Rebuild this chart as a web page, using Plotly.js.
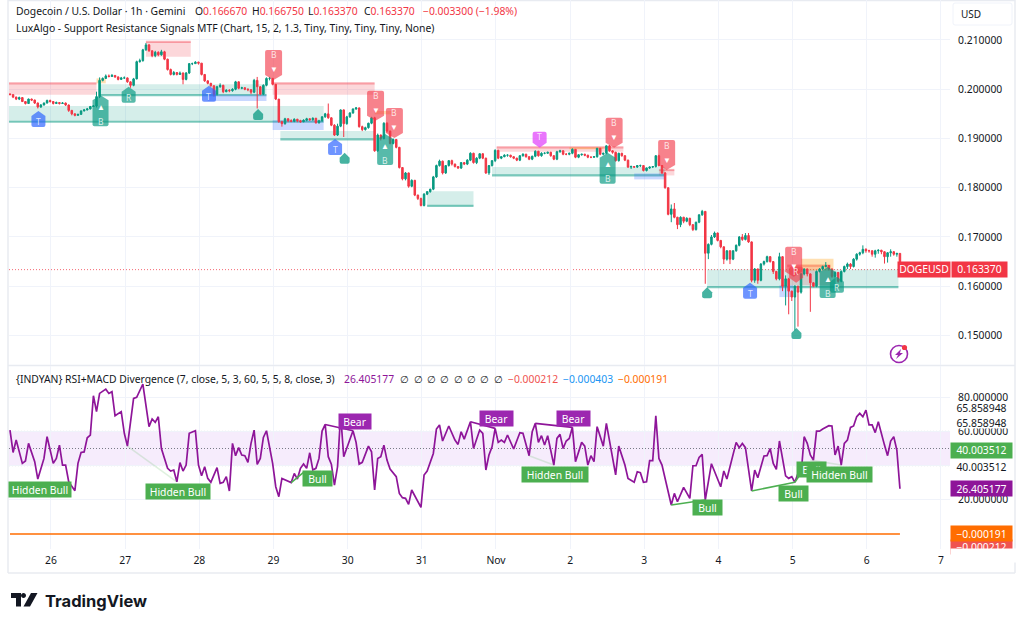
<!DOCTYPE html>
<html><head><meta charset="utf-8">
<script src="https://cdn.plot.ly/plotly-3.0.1.min.js"></script>
<style>html,body{margin:0;padding:0;background:#fff}#c{width:1024px;height:627px}</style>
</head><body><div id="c"></div>
<script>
const firstOpen = .1990;
const closes = [
.1989,.1984,.1980,.1983,.1975,.1971,.1980,.1978,.1972,.1964,
.1968,.1972,.1977,.1975,.1971,.1973,.1971,.1972,.1968,.1957,
.1950,.1947,.1949,.1956,.1958,.1960,.1965,.1966,.1985,.2018,
.2022,.2027,.2026,.2028,.2025,.2020,.2023,.2023,.2015,.2008,
.2021,.2056,.2058,.2080,.2090,.2078,.2068,.2075,.2070,.2076,
.2061,.2040,.2030,.2034,.2030,.2033,.2020,.2033,.2052,.2052,
.2055,.2053,.2030,.2017,.2012,.2007,.1990,.2005,.2008,.1995,
.1998,.1997,.2000,.2015,.2002,.2003,.2000,.1999,.1994,.2018,
.2005,.1990,.2008,.2022,.2022,.2010,.1980,.1934,.1930,.1940,
.1936,.1935,.1939,.1936,.1934,.1937,.1940,.1938,.1941,.1932,
.1936,.1944,.1950,.1942,.1927,.1907,.1925,.1958,.1930,.1944,
.1952,.1960,.1962,.1924,.1918,.1922,.1931,.1942,.1875,.1907,
.1900,.1931,.1915,.1890,.1898,.1882,.1841,.1818,.1830,.1803,
.1815,.1785,.1778,.1764,.1787,.1792,.1797,.1822,.1845,.1854,
.1830,.1845,.1855,.1848,.1843,.1840,.1851,.1848,.1856,.1870,
.1851,.1860,.1869,.1860,.1830,.1845,.1855,.1876,.1860,.1863,
.1866,.1866,.1863,.1860,.1856,.1865,.1868,.1863,.1858,.1864,
.1874,.1865,.1870,.1870,.1872,.1865,.1858,.1873,.1875,.1868,
.1868,.1870,.1878,.1862,.1867,.1868,.1866,.1862,.1862,.1863,
.1880,.1868,.1870,.1885,.1875,.1872,.1855,.1870,.1865,.1856,
.1842,.1843,.1842,.1845,.1845,.1835,.1840,.1842,.1843,.1865,
.1845,.1830,.1800,.1746,.1757,.1740,.1725,.1740,.1732,.1738,
.1725,.1715,.1730,.1745,.1752,.1667,.1685,.1700,.1708,.1693,
.1680,.1655,.1672,.1655,.1672,.1683,.1700,.1695,.1703,.1690,
.1612,.1635,.1612,.1645,.1650,.1660,.1650,.1630,.1615,.1660,
.1600,.1615,.1590,.1578,.1600,.1588,.1625,.1635,.1625,.1607,
.1600,.1630,.1635,.1640,.1642,.1635,.1620,.1628,.1610,.1630,
.1640,.1645,.1640,.1655,.1665,.1668,.1675,.1672,.1672,.1665,
.1672,.1673,.1670,.1660,.1668,.1670,.1665,.16667,.16337];
const highs = [
.1992,.1990,.1985,.1985,.1984,.1976,.1981,.1981,.1979,.1973,
.1970,.1973,.1979,.1979,.1976,.1975,.1974,.1974,.1973,.1969,
.1958,.1951,.1950,.1957,.1960,.1962,.1966,.1968,.1995,.2024,
.2024,.2030,.2030,.2031,.2029,.2026,.2025,.2026,.2024,.2016,
.2023,.2058,.2062,.2082,.2094,.2092,.2079,.2078,.2077,.2080,
.2078,.2062,.2042,.2037,.2035,.2036,.2034,.2035,.2053,.2054,
.2057,.2056,.2053,.2031,.2018,.2013,.2008,.2007,.2012,.2009,
.2000,.2000,.2002,.2017,.2016,.2005,.2004,.2002,.2000,.2021,
.2025,.2006,.2010,.2024,.2025,.2023,.2010,.1980,.1936,.1942,
.1941,.1939,.1941,.1940,.1938,.1939,.1942,.1941,.1943,.1942,
.1938,.1945,.1952,.1971,.1943,.1929,.1930,.1959,.1959,.1946,
.1953,.1961,.1964,.1963,.1926,.1924,.1932,.1944,.1944,.1910,
.1908,.1933,.1933,.1916,.1900,.1899,.1883,.1842,.1832,.1831,
.1817,.1816,.1786,.1780,.1789,.1793,.1798,.1824,.1847,.1857,
.1855,.1846,.1856,.1857,.1849,.1844,.1852,.1852,.1858,.1872,
.1871,.1862,.1870,.1870,.1861,.1846,.1856,.1878,.1877,.1864,
.1868,.1868,.1867,.1864,.1861,.1866,.1870,.1869,.1864,.1865,
.1876,.1875,.1872,.1872,.1873,.1873,.1866,.1875,.1877,.1876,
.1870,.1871,.1880,.1878,.1868,.1869,.1869,.1867,.1863,.1864,
.1881,.1881,.1871,.1886,.1887,.1876,.1873,.1871,.1871,.1866,
.1857,.1845,.1844,.1846,.1847,.1846,.1841,.1843,.1844,.1866,
.1867,.1846,.1832,.1800,.1766,.1769,.1741,.1742,.1741,.1740,
.1739,.1726,.1731,.1746,.1755,.1752,.1687,.1704,.1711,.1709,
.1694,.1681,.1673,.1673,.1673,.1685,.1702,.1706,.1708,.1708,
.1691,.1637,.1636,.1647,.1652,.1662,.1661,.1651,.1631,.1668,
.1661,.1622,.1617,.1591,.1602,.1601,.1627,.1636,.1636,.1626,
.1608,.1632,.1637,.1642,.1649,.1643,.1636,.1630,.1629,.1632,
.1642,.1648,.1647,.1657,.1667,.1670,.1683,.1677,.1674,.1673,
.1674,.1675,.1674,.1671,.1669,.1675,.1671,.16675,.16675];
const lows = [
.1988,.1982,.1978,.1978,.1974,.1969,.1970,.1976,.1970,.1961,
.1962,.1967,.1971,.1973,.1969,.1970,.1969,.1970,.1966,.1954,
.1947,.1945,.1946,.1948,.1955,.1957,.1959,.1964,.1963,.1982,
.2016,.2021,.2024,.2025,.2023,.2018,.2019,.2021,.2013,.2003,
.2006,.2020,.2054,.2056,.2078,.2076,.2065,.2065,.2067,.2068,
.2059,.2038,.2028,.2028,.2028,.2029,.2010,.2018,.2031,.2049,
.2052,.2050,.2028,.2015,.2010,.2005,.1985,.1987,.2003,.1992,
.1994,.1994,.1995,.1998,.2000,.2000,.1998,.1996,.1990,.1992,
.1961,.1988,.1988,.2006,.2018,.2008,.1978,.1932,.1924,.1928,
.1933,.1933,.1933,.1933,.1932,.1933,.1935,.1936,.1936,.1930,
.1930,.1934,.1942,.1940,.1925,.1905,.1905,.1923,.1903,.1928,
.1942,.1950,.1958,.1922,.1915,.1916,.1920,.1929,.1873,.1873,
.1896,.1898,.1912,.1888,.1888,.1880,.1839,.1815,.1815,.1800,
.1801,.1783,.1775,.1762,.1762,.1785,.1790,.1795,.1820,.1843,
.1827,.1828,.1843,.1845,.1841,.1838,.1838,.1846,.1846,.1854,
.1849,.1848,.1858,.1858,.1828,.1826,.1843,.1852,.1858,.1858,
.1862,.1863,.1861,.1858,.1854,.1854,.1863,.1861,.1856,.1856,
.1862,.1863,.1863,.1868,.1869,.1863,.1856,.1856,.1871,.1866,
.1866,.1866,.1868,.1860,.1860,.1865,.1864,.1860,.1860,.1861,
.1861,.1866,.1866,.1868,.1873,.1869,.1853,.1853,.1863,.1854,
.1840,.1838,.1840,.1840,.1842,.1833,.1833,.1838,.1840,.1841,
.1843,.1828,.1798,.1744,.1730,.1738,.1716,.1720,.1728,.1730,
.1722,.1712,.1713,.1728,.1743,.1605,.1655,.1683,.1698,.1691,
.1677,.1645,.1652,.1645,.1653,.1670,.1681,.1692,.1693,.1688,
.1608,.1607,.1605,.1610,.1642,.1648,.1648,.1625,.1612,.1612,
.1590,.1561,.1543,.1570,.1510,.1518,.1585,.1622,.1620,.1548,
.1598,.1598,.1628,.1633,.1638,.1632,.1617,.1617,.1607,.1608,
.1628,.1635,.1635,.1638,.1652,.1662,.1665,.1668,.1668,.1660,
.1658,.1666,.1665,.1646,.1648,.1660,.1662,.1660,.16337];
const rsiIdx = [0,1,2,4,5,6,8,9,11,12,14,15,16,17,18,19,21,22,23,24,25,26,27,28,29,31,32,33,34,36,37,38,40,41,43,45,46,47,48,49,51,52,53,54,55,56,57,58,60,61,62,63,64,65,67,68,69,70,71,72,73,74,75,76,77,78,79,80,81,82,83,85,86,87,88,90,91,92,93,94,95,96,97,98,99,100,101,102,103,104,105,106,107,108,111,112,113,114,116,117,118,119,120,121,122,123,125,126,127,128,129,130,133,134,135,137,138,139,140,142,144,145,146,147,149,150,152,153,154,155,156,157,158,159,160,161,163,165,166,168,169,170,171,172,173,174,176,177,178,179,180,181,182,183,185,186,187,188,189,190,192,193,196,197,199,200,202,203,204,205,206,207,208,209,210,211,214,215,216,218,220,221,222,223,224,225,227,230,231,232,235,236,237,238,240,241,242,244,245,246,247,248,249,251,252,253,254,255,256,257,258,259,260,261,262,263,265,266,267,268,269,270,271,272,273,274,275,276,277,278,279,280,281,283,284,285,286,287,288];
const rsiVal = [60.8,47.7,55,41.3,42.7,53,42.3,32.1,44.2,56.9,41.3,44.2,52,40.3,40.3,30.5,25.3,41.3,47.7,48,56.3,57.9,80.9,71.6,82.3,84.8,82.3,83.3,69.2,71.6,58.9,51.4,79.4,80,87.8,62.8,67.3,65.3,68.6,50,38.4,36.8,37.4,30.5,41.7,36.8,40.3,58.9,60.4,40.3,34,39.3,32.5,30.2,38.8,29.6,30.2,33.5,25.1,53,45.8,50.5,46.2,45.8,41.9,53,60.8,40.7,44.2,56.5,60.4,41.3,27.6,21.8,32.5,30.5,30,35.4,32.1,38.4,40.9,38.4,47.5,37.4,38.4,44.2,60.2,64.1,45.2,40.8,28.6,39.3,70,45.2,60.4,53.6,40.9,41.9,51.4,48.1,25.7,44.2,45.2,52,43.2,38,33.5,23.7,21.2,20.8,17.3,25.7,15.5,34.5,36.8,47.1,61.4,63.8,54.4,63.2,55,52.4,59.8,55.5,65.7,50,60.8,58.9,37.4,46.2,51,61.8,53.6,55,53.6,57.9,49.7,59.3,58.9,45.8,59.8,64.7,53.6,57.5,52,57.5,40.3,55.9,58.3,50,54.4,55.9,62.4,42.3,53.6,51.4,40.3,45.8,42.3,62.8,51.4,64.7,34.5,51.4,40.3,32.5,30.2,36.4,35.8,30.2,30.5,42.9,42.9,69.2,44.2,40.3,16.9,23.7,18.8,27.2,20.8,39.9,39.9,44.8,46.6,19.8,41.1,27.6,36.8,32.1,53.6,50.5,53,50.5,25.1,37.4,32.9,45.6,45.8,50,41.3,37.8,54.4,34,32.5,33.5,30.2,35.4,34.5,56.9,53,46.2,43.2,60.2,60.2,61.4,63.4,63.2,46.2,51.4,40.3,53,55,62.4,63.2,68.6,70.6,68.6,72.5,63.8,63.8,59.3,65.7,52,45.8,54.4,56.9,49.1,26.4];
const macdVal = [-0.000191,-0.000191];
const priceTicks = [.21,.2,.19,.18,.17,.16,.15];
const dayLabels = ['26','27','28','29','30','31','Nov','2','3','4','5','6','7'];
// kind, from candle, to candle, low price, high price
const zones = [
['red',-1,28,.1989,.2012],['red',85,118,.1989,.2012],['red',44,58.5,.2066,.2096],
['red',157.5,198.5,.1873,.1882],['red',210,215,.1825,.1836],['red',251.5,265.5,.1602,.1642],
['green',29,83,.1988,.2010],['green',-1,101.5,.1934,.1966],['green',87.5,118,.1898,.1915],
['green',135,150,.1763,.1793],['green',156,212,.1825,.1842],['green',225.6,287.5,.1598,.1634],
['blue',85,101.5,.1917,.1937],['blue',64,83,.1976,.1989],['blue',202,212,.1817,.1829],['blue',249,253.5,.1578,.1602],
['orange',28,31,.2012,.2022],['orange',118,124,.1949,.1956],['orange',181,192,.1878,.1882],['orange',256,266.5,.1632,.1656]
];
// kind, tip candle, tip price, letter
const signals = [
['gB',29.3,.1988,'B'],['gB',121.4,.1909,'B'],['gB',193.4,.1871,'B'],['gB',264.6,.1639,'B'],
['gS',38.4,.2005,'R'],['gS',267.6,.1619,'R'],
['g0',80.3,.1960,''],['g0',108.3,.1871,''],['g0',225.6,.1598,''],['g0',254.5,.1515,''],
['bS',9.2,.1956,'T'],['bS',64.4,.2007,'T'],['bS',105.2,.1899,'T'],['bS',239.5,.1607,'T'],
['rB',85.3,.2019,'B'],['rB',118.3,.1936,'B'],['rB',124.4,.1901,'B'],['rB',195.5,.1881,'B'],['rB',212.5,.1836,'B'],['rB',253.6,.1619,'B'],
['rS',254.4,.1607,'R'],['mS',171.4,.1881,'T']
];
// from candle, rsi, to candle, rsi, colour class
const divLines = [
[102,64.1,111,60.4,'bear'],[149,65.7,157,61.8,'bear'],[170,64.7,182,62.4,'bear'],
[91,30,95,36,'bull'],[214,16.9,225,19.8,'bull'],[240,25.1,254,30.2,'bull'],[254,30.2,258,41,'bull'],
[38,51.4,54,30.5,'hid'],[168,45.8,176,40.3,'hid'],[259,43.2,269,40.3,'hid']
];
// text, centre px, centre py, width, fill
const divLabels = [
['Hidden Bull',40,489.5,62,'#4caf50'],['Hidden Bull',178,491,64,'#4caf50'],['Bull',317,478,29,'#4caf50'],
['Bear',354.5,421,32,'#9c27b0'],['Bear',496.5,418.5,33,'#9c27b0'],['Bear',573.5,418.5,33,'#9c27b0'],
['Hidden Bull',555,474.5,66,'#4caf50'],['Bull',707,507,29,'#4caf50'],['Bull',793.5,493,29,'#4caf50'],
['Bull',811.5,469,29,'#4caf50'],['Hidden Bull',839.5,474.5,65,'#4caf50']
];
const ohlcLabels = [['O','0.166670',195],['H','0.166750',252],['L','0.163370',308],['C','0.163370',364]];
const changeLabel = '−0.003300 (−1.98%)';
const naPositions = [400,413.5,427,440,453.5,467,480,493.5];
const plotValues = [['26.405177','#8e1599',344],['−0.000212','#ef5350',507.7],['−0.000403','#2196f3',562.7],['−0.000191','#ff6d00',617.7]];

const FONT = 'Noto Sans, sans-serif', TXT = '#131722';
const idx = closes.map((_, i) => i);
const opens = closes.map((_, i) => i ? closes[i - 1] : firstOpen);
const dayTicks = dayLabels.map((_, k) => 13.27 + 24 * k);
const PX = p => (p - 9) / 941, PY = p => (549 - p) / 549;

const zoneFill = {red:'rgba(242,54,69,.2)',green:'rgba(8,153,129,.17)',blue:'rgba(41,98,255,.25)',orange:'rgba(255,152,0,.3)'};
const shapes = [];
zones.forEach(z => {
  shapes.push({type:'rect',layer:'between',xref:'x',yref:'y',x0:z[1],x1:z[2],y0:z[3],y1:z[4],fillcolor:zoneFill[z[0]],line:{width:0}});
  if (z[0]==='green' || z[0]==='red') {
    const y = z[0]==='green' ? z[3] : z[4];
    shapes.push({type:'line',layer:'between',xref:'x',yref:'y',x0:z[1],x1:z[2],y0:y,y1:y,line:{color:z[0]==='green'?'rgba(8,153,129,.5)':'rgba(242,54,69,.4)',width:2.2}});
  }
});
// band + levels in RSI pane
shapes.push({type:'rect',layer:'between',xref:'paper',yref:'y2',x0:0,x1:1,y0:40,y1:60,fillcolor:'rgba(156,39,220,.09)',line:{width:0}});
[60,50,40].forEach(v => shapes.push({type:'line',layer:'between',xref:'paper',yref:'y2',x0:0,x1:1,y0:v,y1:v,line:{color:'#787b86',width:1,dash:'1px,2px'}}));
// last price
shapes.push({type:'line',layer:'between',xref:'paper',yref:'y',x0:0,x1:1,y0:.16337,y1:.16337,line:{color:'rgba(242,54,69,.75)',width:1,dash:'1px,2px'}});
// frame, pane split
const frame = {color:'#e8ebf1',width:1.5};
[[8,0,8,573],[1015,0,1015,573],[8,573,1015,573],[8,0.5,1015,0.5],[8,365.5,1015,365.5]].forEach(l =>
  shapes.push({type:'line',layer:'below',xref:'paper',yref:'paper',x0:PX(l[0]),x1:PX(l[2]),y0:PY(l[1]),y1:PY(l[3]),line:frame}));
// USD button
shapes.push({type:'path',layer:'below',xref:'paper',yref:'paper',xsizemode:'pixel',ysizemode:'pixel',xanchor:PX(953),yanchor:PY(3),
  path:'M2,0 L57,0 Q59,0 59,-2 L59,-20 Q59,-22 57,-22 L2,-22 Q0,-22 0,-20 L0,-2 Q0,0 2,0 Z',fillcolor:'#fff',line:{color:'#f0f3fa',width:1}});
// divergence lines
const divStyle = {bear:{color:'#8e1599',width:1.6},bull:{color:'#4caf50',width:1.6},hid:{color:'rgba(76,175,80,.18)',width:1.6}};
divLines.forEach(d => shapes.push({type:'line',xref:'x',yref:'y2',x0:d[0],y0:d[1],x1:d[2],y1:d[3],line:divStyle[d[4]]}));

// rounded pentagon flags: tip on the anchor
function flag(w, h, up) {
  const s = up ? -1 : 1, hw = w / 2, t = 5, r = 2;           // +y is up in pixel mode
  const Y = v => s * v;
  return `M0,0 L${hw},${Y(t)} L${hw},${Y(h-r)} Q${hw},${Y(h)} ${hw-r},${Y(h)} L${-hw+r},${Y(h)} Q${-hw},${Y(h)} ${-hw},${Y(h-r)} L${-hw},${Y(t)} Z`;
}
const sigStyle = {
  gB:{w:16,h:31,up:true,c:'rgba(8,153,129,.68)'}, gS:{w:14,h:16,up:true,c:'rgba(8,153,129,.68)'},
  g0:{w:10,h:11,up:true,c:'rgba(8,153,129,.75)'}, bS:{w:14,h:16,up:true,c:'rgba(41,98,255,.68)'},
  rB:{w:17,h:30,up:false,c:'rgba(242,54,69,.62)'}, rS:{w:14,h:16,up:false,c:'rgba(242,54,69,.62)'},
  mS:{w:14,h:16,up:false,c:'rgba(224,64,251,.72)'}
};
const annotations = [];
signals.forEach(s => {
  const st = sigStyle[s[0]];
  shapes.push({type:'path',layer:'above',xref:'x',yref:'y',xsizemode:'pixel',ysizemode:'pixel',xanchor:s[1],yanchor:s[2],
    path:flag(st.w,st.h,st.up),fillcolor:st.c,line:{width:0}});
  if (s[3]) {
    const tall = st.h > 20, dir = st.up ? -1 : 1;
    annotations.push({xref:'x',yref:'y',x:s[1],y:s[2],yshift:dir*(st.h-5),text:s[3],showarrow:false,font:{family:FONT,size:8.5,color:'rgba(255,255,255,.8)'}});
    if (tall) annotations.push({xref:'x',yref:'y',x:s[1],y:s[2],yshift:dir*11,text:st.up?'▲':'▼',showarrow:false,font:{family:FONT,size:8,color:'#fff'}});
  }
});
function label(px, py, text, o = {}) {
  annotations.push({xref:'paper',yref:'paper',x:PX(px-2),y:PY(py),xanchor:'left',yanchor:'middle',text,showarrow:false,
    font:{family:o.family||FONT,size:o.size||10.35,color:o.color||TXT}});
}
label(16,11.5,'Dogecoin / U.S. Dollar · 1h · Gemini');
ohlcLabels.forEach(l => label(l[2],11.5,`${l[0]}<span style="color:#f23645">${l[1]}</span>`));
label(423,11.5,changeLabel,{color:'#f23645'});
label(16,28,'LuxAlgo - Support Resistance Signals MTF (Chart, 15, 2, 1.3, Tiny, Tiny, Tiny, Tiny, None)');
label(16,379,'{INDYAN} RSI+MACD Divergence (7, close, 5, 3, 60, 5, 5, 8, close, 3)');
plotValues.forEach(v => label(v[2],379,v[0],{color:v[1]}));
naPositions.forEach(p => label(p,379,'∅',{size:9.5}));
label(961,14,'USD',{size:10});
divLabels.forEach(d => annotations.push({xref:'paper',yref:'paper',x:PX(d[1]),y:PY(d[2]),xanchor:'center',yanchor:'middle',text:d[0],showarrow:false,
  bgcolor:d[4],width:d[3],height:15,borderpad:0,font:{family:FONT,size:10.35,color:'#fff'}}));
// right-hand price tags
function tag(x0, w, py, h, text, bg, color) {
  annotations.push({xref:'paper',yref:'paper',x:PX(x0),y:PY(py),xanchor:'left',yanchor:'middle',text,showarrow:false,bgcolor:bg,width:w,height:h,borderpad:0,align:'center',
    font:{family:FONT,size:10.35,color:color||'#fff'}});
}
tag(897,52,269,14.5,'DOGEUSD','#f23645');
tag(950.5,55,269,14.5,'0.163370','#f23645');
tag(950,61,547,14,'−0.000212','#ef5350');
tag(950,66,555.5,13,'','#ffffff');
tag(950,61,533.5,15,'−0.000191','#ff6d00');
tag(950,61,407,11,'65.858948','#fff',TXT);
tag(950,61,422.5,11,'65.858948','#fff',TXT);
tag(950,61,450.5,14.5,'40.003512','#4caf50');
tag(950,61,466,11,'40.003512','#fff',TXT);
tag(950,61,488.5,15,'26.405177','#8e1599');
// TradingView wordmark
label(44.5,600.5,'<b>TradingView</b>',{size:16.5,family:'Inter, sans-serif'});
shapes.push({type:'path',layer:'above',xref:'paper',yref:'paper',xsizemode:'pixel',ysizemode:'pixel',xanchor:PX(11),yanchor:PY(593),
  path:'M0,0 L10,0 L10,-13.5 L5,-13.5 L5,-5 L0,-5 Z M15,-2.5 C15,-1.1 13.9,0 12.5,0 C11.1,0 10,-1.1 10,-2.5 C10,-3.9 11.1,-5 12.5,-5 C13.9,-5 15,-3.9 15,-2.5 Z M20,0 L26.5,0 L19,-13.5 L12.5,-13.5 Z'.replace('M20,0 L26.5,0 L19,-13.5 L12.5,-13.5 Z','M20,0 L26.5,0 L19,-13.5 L12.5,-13.5 Z'),
  fillcolor:'#131722',line:{width:0}});
// bolt badge
shapes.push({type:'circle',layer:'above',xref:'paper',yref:'paper',xsizemode:'pixel',ysizemode:'pixel',xanchor:PX(899),yanchor:PY(354),x0:-8.5,x1:8.5,y0:-8.5,y1:8.5,fillcolor:'rgba(0,0,0,0)',line:{color:'#9c27b0',width:1.6}});
shapes.push({type:'path',layer:'above',xref:'paper',yref:'paper',xsizemode:'pixel',ysizemode:'pixel',xanchor:PX(899),yanchor:PY(354),path:'M2,5 L-4,-1 L-1,-1 L-3,-5 L4,1 L1,1 Z',fillcolor:'#9c27b0',line:{width:0}});
shapes.push({type:'circle',layer:'above',xref:'paper',yref:'paper',xsizemode:'pixel',ysizemode:'pixel',xanchor:PX(904.5),yanchor:PY(347.5),x0:-2.6,x1:2.6,y0:-2.6,y1:2.6,fillcolor:'#f23645',line:{width:0}});

const noHover = {hoverinfo:'skip',showlegend:false};
const data = [
  Object.assign({type:'candlestick',x:idx,open:opens,high:highs,low:lows,close:closes,xaxis:'x',yaxis:'y',whiskerwidth:0,
    increasing:{line:{color:'#089981',width:1},fillcolor:'#089981'},decreasing:{line:{color:'#f23645',width:1},fillcolor:'#f23645'}},noHover),
  Object.assign({type:'scatter',mode:'lines',x:rsiIdx,y:rsiVal,xaxis:'x',yaxis:'y2',line:{color:'#8e1599',width:1.7}},noHover),
  Object.assign({type:'scatter',mode:'lines',x:[0,idx[idx.length-1]],y:macdVal,xaxis:'x',yaxis:'y3',line:{color:'#ff6d00',width:1.4}},noHover)
];
const grid = '#f0f3fa';
const layout = {
  width:1024,height:627,paper_bgcolor:'#fff',plot_bgcolor:'#fff',showlegend:false,dragmode:false,
  margin:{l:9,r:74,t:0,b:78,pad:0},font:{family:FONT,color:TXT},
  xaxis:{domain:[0,1],anchor:'y2',range:[-0.32,304.2],rangeslider:{visible:false},tickmode:'array',tickvals:dayTicks,ticktext:dayLabels,
    gridcolor:grid,gridwidth:1,zeroline:false,showline:false,ticks:'outside',ticklen:2,tickcolor:'rgba(0,0,0,0)',tickfont:{family:FONT,size:10.35,color:TXT}},
  yaxis:{domain:[0.3352,1],range:[.14401,.21812],side:'right',anchor:'x',tickmode:'array',tickvals:priceTicks,ticktext:priceTicks.map(v=>v.toFixed(6)),
    gridcolor:grid,zeroline:false,showline:false,ticks:'outside',ticklen:5,tickcolor:'rgba(0,0,0,0)',tickfont:{family:FONT,size:10.35,color:TXT}},
  yaxis2:{domain:[0,0.3333],range:[-8.89,98.34],side:'right',anchor:'x',tickmode:'array',tickvals:[80,60,40,20],ticktext:['80.000000','60.000000','','20.000000'],
    gridcolor:grid,zeroline:false,showline:false,ticks:'outside',ticklen:5,tickcolor:'rgba(0,0,0,0)',tickfont:{family:FONT,size:10.35,color:TXT}},
  yaxis3:{domain:[0,0.3333],range:[-0.00025,0.00047],overlaying:'y2',side:'right',anchor:'x',showticklabels:false,showgrid:false,zeroline:false,ticks:''},
  shapes,annotations
};
Plotly.newPlot('c',data,layout,{staticPlot:true,displayModeBar:false});
</script></body></html>
